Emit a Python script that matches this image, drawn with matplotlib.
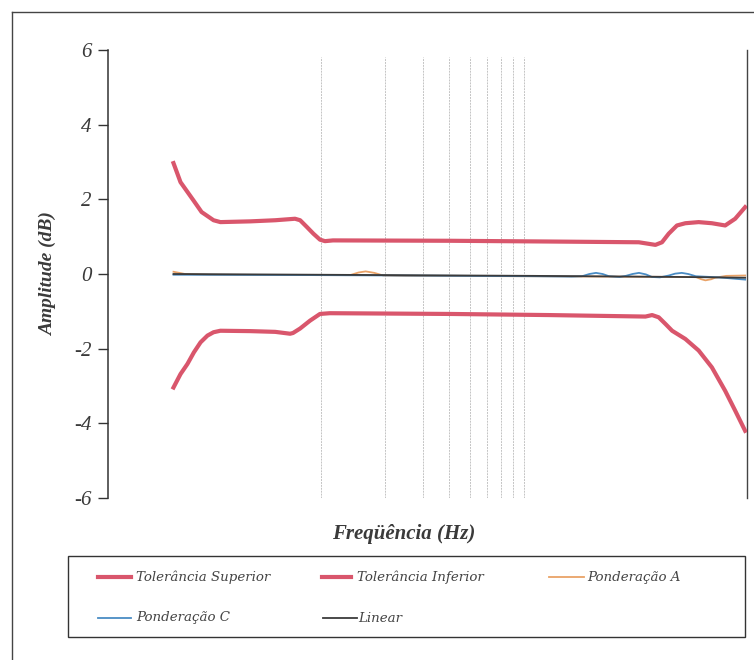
# Frequency response vs. tolerance limits (scanned report figure).
# Output: out.png, 754x660

import matplotlib
matplotlib.use('Agg')
import matplotlib.pyplot as plt
from matplotlib.lines import Line2D
from matplotlib.patches import Rectangle

# --- data (Hz, dB) ---
sup_freq = [20.3, 21.9, 25.2, 27.5, 31.3, 33.7, 46.6, 61, 71.6, 75.5, 79.8, 85.8, 92.1, 98.9,
            104.4, 113.8, 401, 1178, 3105, 3715, 3990, 4290, 4690, 5135, 5930, 6840, 7900, 8800, 9800]
sup_db = [2.97, 2.46, 1.97, 1.66, 1.44, 1.39, 1.41, 1.44, 1.47, 1.48, 1.44, 1.26, 1.08, 0.92,
          0.88, 0.90, 0.89, 0.87, 0.85, 0.78, 0.85, 1.08, 1.30, 1.36, 1.39, 1.36, 1.30, 1.48, 1.79]

inf_freq = [20.3, 21.9, 23.6, 25.3, 27.2, 29.3, 31.3, 33.7, 46.6, 61, 71.6, 73.9, 79.8, 88.8,
            98.9, 110, 401, 1178, 3335, 3585, 3850, 4145, 4450, 5135, 5930, 6840, 7900, 8800, 9800]
inf_db = [-3.04, -2.68, -2.41, -2.10, -1.83, -1.65, -1.56, -1.52, -1.53, -1.55, -1.6, -1.58, -1.46, -1.25,
          -1.07, -1.05, -1.07, -1.10, -1.14, -1.10, -1.16, -1.34, -1.52, -1.74, -2.05, -2.50, -3.13, -3.66, -4.2]

pond_a_freq = [20.3, 23, 30, 100, 137, 150, 162, 178, 196, 250, 1000, 5750, 6100, 6380, 6800, 7070,
               8000, 9800]
pond_a_db = [0.06, 0.0, -0.02, -0.03, -0.03, 0.04, 0.07, 0.03, -0.04, -0.05, -0.06, -0.08, -0.14, -0.17,
             -0.14, -0.10, -0.05, -0.04]

pond_c_freq = [20.3, 100, 1000, 1500, 1680, 1820, 1955, 2100, 2250, 2520, 2700, 2900, 3110, 3350,
               3580, 3900, 4300, 4600, 4940, 5300, 5750, 7360, 9800]
pond_c_db = [-0.02, -0.03, -0.06, -0.07, -0.06, 0.0, 0.03, 0.0, -0.06, -0.08, -0.05, 0.0, 0.03, -0.01,
             -0.08, -0.09, -0.04, 0.01, 0.03, 0.0, -0.06, -0.09, -0.15]

linear_freq = [20.3, 100, 1000, 5000, 9800]
linear_db = [0.0, -0.02, -0.05, -0.08, -0.1]

grid_freqs = [100, 200, 300, 400, 500, 600, 700, 800, 900]

RED = "#d9566c"
ORANGE = "#e9a267"
BLUE = "#4a8cc4"
DARK = "#3b3b3b"
TEXT = "#3a3a3a"

SERIF = "Liberation Serif"
LEG_FONT = "DejaVu Serif"

fig = plt.figure(figsize=(7.54, 6.6), dpi=100, facecolor="white")
ax = fig.add_axes([108 / 754, 1 - 498 / 660, (747 - 108) / 754, (498 - 50) / 660])
ax.set_facecolor("white")

for f in grid_freqs:
    ax.axvline(f, ymin=0.0, ymax=0.985, color="#c4c4c4", lw=0.7, ls=(0, (2, 1)), zorder=1)

series = [
    ("Tolerância Superior", sup_freq, sup_db, RED, 3.0),
    ("Tolerância Inferior", inf_freq, inf_db, RED, 3.0),
    ("Ponderação A", pond_a_freq, pond_a_db, ORANGE, 1.3),
    ("Ponderação C", pond_c_freq, pond_c_db, BLUE, 1.3),
    ("Linear", linear_freq, linear_db, DARK, 1.3),
]
zorders = {RED: 4, ORANGE: 2, BLUE: 2, DARK: 3}
for name, fx, fy, col, lw in series:
    ax.plot(fx, fy, color=col, lw=lw, solid_joinstyle="round", zorder=zorders[col])

ax.set_xscale("log")
ax.set_xlim(10, 10000)
ax.set_ylim(-6, 6)
ax.set_xticks([])
ax.xaxis.set_minor_locator(matplotlib.ticker.NullLocator())
ax.set_yticks([-6, -4, -2, 0, 2, 4, 6])
ax.set_yticklabels(["-6", "-4", "-2", "0", "2", "4", "6"], fontfamily=SERIF,
                   fontstyle="italic", fontsize=15, color=TEXT)

for s in ["top", "bottom"]:
    ax.spines[s].set_visible(False)
ax.spines["left"].set_color("#333333")
ax.spines["left"].set_linewidth(1.1)
ax.spines["right"].set_color("#444444")
ax.spines["right"].set_linewidth(1.0)
ax.tick_params(axis="y", direction="out", length=7, width=1.0, color="#333333", pad=5)

ax.set_ylabel("Amplitude (dB)", fontfamily=SERIF, fontstyle="italic", fontweight="bold",
              fontsize=14, color=TEXT, labelpad=12)
fig.text(404 / 754, 1 - 534 / 660, "Freqüência (Hz)", ha="center", va="center",
         fontfamily=SERIF, fontstyle="italic", fontweight="bold", fontsize=15, color=TEXT)

# legend box, drawn by hand to keep the scanned column positions
fig.add_artist(Rectangle((68 / 754, 1 - 637 / 660), 677 / 754, 81 / 660, transform=fig.transFigure,
                         fill=False, edgecolor="#333333", lw=1.0))
legend_slots = [  # (series index, line x0, line x1, text x, row y) in pixels
    (0, 98, 131, 136, 577),
    (1, 322, 351, 357, 577),
    (2, 549, 584, 587, 577),
    (3, 98, 131, 136, 618),
    (4, 323, 357, 358, 618),
]
for idx, x0, x1, xt, yr in legend_slots:
    name, _, _, col, lw = series[idx]
    fig.add_artist(Line2D([x0 / 754, x1 / 754], [1 - yr / 660, 1 - yr / 660], color=col, lw=lw))
    fig.text(xt / 754, 1 - yr / 660, name, ha="left", va="center", fontfamily=LEG_FONT,
             fontstyle="italic", fontsize=9.6, color="#444444")

# outer chart border (cut off at the right and bottom by the scan)
fig.add_artist(Line2D([12 / 754, 12 / 754], [0, 1 - 12 / 660], color="#444444", lw=1.0))
fig.add_artist(Line2D([12 / 754, 1], [1 - 12 / 660, 1 - 12 / 660], color="#444444", lw=1.0))

fig.savefig("out.png", dpi=100, facecolor="white")
